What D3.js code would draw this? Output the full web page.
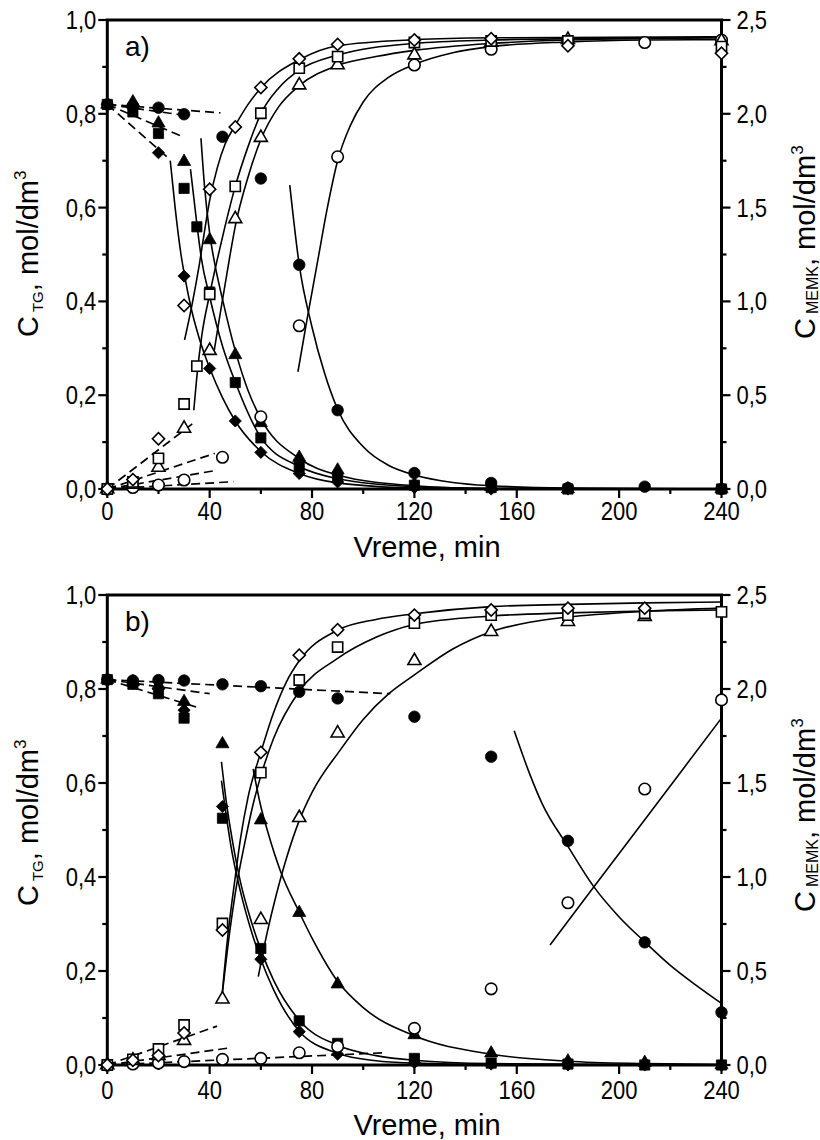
<!DOCTYPE html>
<html><head><meta charset="utf-8">
<script src="https://cdn.jsdelivr.net/npm/d3@7"></script>
<style>
body{margin:0;background:#fff}
svg{display:block}
text{font-family:"Liberation Sans",Arial,Helvetica,sans-serif;fill:#000}
</style></head><body>
<svg id="chart" width="820" height="1140"></svg>
<script>
// ---------- axis ticks ----------
const timeTicks = [0,40,80,120,160,200,240];
const timeMinorTicks = [20,60,100,140,180,220];
const tgTicks = [0,0.2,0.4,0.6,0.8,1.0];
const tgMinorTicks = [0.1,0.3,0.5,0.7,0.9];
const memkTicks = [0,0.5,1.0,1.5,2.0,2.5];
const memkMinorTicks = [0.25,0.75,1.25,1.75,2.25];

// ---------- panel a : C_TG (filled markers), [time min, mol/dm3] ----------
const aTgCircle   = [[0,0.82],[10,0.817],[20,0.813],[30,0.799],[45,0.751],[60,0.662],[75,0.478],[90,0.168],[120,0.034],[150,0.013],[180,0.002],[210,0.005],[240,0]];
const aTgTriangle = [[0,0.82],[10,0.825],[20,0.78],[30,0.698],[40,0.531],[50,0.286],[60,0.141],[75,0.067],[90,0.04],[120,0.01],[150,0.005],[180,0],[240,0]];
const aTgSquare   = [[0,0.82],[10,0.804],[20,0.758],[30,0.641],[35,0.559],[40,0.42],[50,0.227],[60,0.109],[75,0.048],[90,0.026],[120,0.008],[150,0.003],[180,0],[240,0]];
const aTgDiamond  = [[0,0.82],[10,0.812],[20,0.717],[30,0.454],[40,0.257],[50,0.145],[60,0.078],[75,0.033],[90,0.015],[120,0.003],[150,0],[180,0],[240,0]];
// ---------- panel a : C_MEMK (open markers) ----------
const aMemkCircle   = [[0,0],[10,0.008],[20,0.021],[30,0.048],[45,0.169],[60,0.385],[75,0.87],[90,1.771],[120,2.26],[150,2.344],[180,2.388],[210,2.38],[240,2.393]];
const aMemkTriangle = [[0,0],[10,0.025],[20,0.115],[30,0.323],[40,0.738],[50,1.44],[60,1.873],[75,2.153],[90,2.26],[120,2.313],[150,2.38],[180,2.395],[240,2.388]];
const aMemkSquare   = [[0,0],[10,0.038],[20,0.163],[30,0.453],[35,0.655],[40,1.038],[50,1.613],[60,2.003],[75,2.243],[90,2.305],[120,2.38],[150,2.388],[180,2.388],[240,2.358]];
const aMemkDiamond  = [[0,0],[10,0.05],[20,0.268],[30,0.978],[40,1.598],[50,1.93],[60,2.14],[75,2.293],[90,2.37],[120,2.393],[150,2.4],[180,2.363],[240,2.323]];
// ---------- panel a : fitted curves ----------
const aFitTgCircle   = [[71.3,0.648],[75,0.478],[80,0.345],[85,0.245],[90,0.17],[100,0.09],[110,0.05],[120,0.03],[135,0.014],[150,0.007],[180,0.002],[240,0]];
const aFitTgTriangle = [[36.6,0.748],[38,0.645],[40,0.545],[42,0.48],[45,0.405],[50,0.295],[55,0.21],[60,0.15],[75,0.065],[90,0.03],[120,0.007],[150,0.001],[240,0]];
const aFitTgSquare   = [[32.5,0.682],[35,0.565],[36.8,0.49],[40,0.41],[45,0.305],[50,0.228],[60,0.11],[75,0.048],[90,0.022],[120,0.005],[150,0.001],[240,0]];
const aFitTgDiamond  = [[24.6,0.70],[26.5,0.60],[28.8,0.50],[30.2,0.455],[33,0.38],[36,0.32],[40,0.258],[45,0.195],[50,0.145],[60,0.08],[75,0.033],[90,0.013],[120,0.002],[150,0],[240,0]];
const aFitMemkCircle   = [[74.5,0.625],[78,0.9],[82,1.2],[86,1.5],[90,1.75],[95,1.938],[100,2.063],[110,2.195],[120,2.263],[135,2.325],[150,2.358],[180,2.383],[210,2.393],[240,2.395]];
const aFitMemkTriangle = [[41.5,0.715],[44,0.925],[46,1.088],[48,1.25],[50,1.4],[55,1.663],[60,1.863],[67,2.038],[75,2.15],[90,2.258],[105,2.305],[120,2.338],[150,2.375],[180,2.393],[240,2.405]];
const aFitMemkSquare   = [[33.8,0.42],[35,0.6],[37,0.825],[40,1.038],[43,1.225],[46,1.4],[50,1.613],[55,1.825],[60,2.0],[67,2.138],[75,2.233],[90,2.313],[120,2.375],[150,2.393],[180,2.4],[240,2.405]];
const aFitMemkDiamond  = [[30.2,0.795],[33,0.975],[36,1.2],[38,1.375],[40,1.538],[43,1.713],[46,1.838],[50,1.938],[55,2.05],[60,2.138],[75,2.288],[90,2.363],[120,2.395],[150,2.405],[240,2.41]];
// ---------- panel a : dashed initial segments ----------
const aDashTg = [
  [[0,0.82],[44.2,0.802]],
  [[0,0.82],[29.9,0.797]],
  [[0,0.82],[28.6,0.753]],
  [[0,0.82],[24,0.705]]
];
const aDashMemk = [
  [[0,0],[33.5,0.35]],
  [[0,0],[42,0.19]],
  [[0,0],[43,0.10]],
  [[0,0],[49.3,0.039]]
];

// ---------- panel b : C_TG (filled markers) ----------
const bTgCircle   = [[0,0.82],[10,0.818],[20,0.819],[30,0.818],[45,0.81],[60,0.806],[75,0.794],[90,0.78],[120,0.741],[150,0.656],[180,0.477],[210,0.261],[240,0.112]];
const bTgTriangle = [[0,0.82],[10,0.815],[20,0.808],[30,0.773],[45,0.683],[60,0.521],[75,0.324],[90,0.172],[120,0.064],[150,0.025],[180,0.008],[210,0.005],[240,0]];
const bTgSquare   = [[0,0.82],[10,0.81],[20,0.79],[30,0.738],[45,0.525],[60,0.248],[75,0.094],[90,0.046],[120,0.014],[150,0.004],[180,0.002],[210,0],[240,0]];
const bTgDiamond  = [[0,0.82],[10,0.812],[20,0.80],[30,0.755],[45,0.55],[60,0.225],[75,0.071],[90,0.023],[120,0.005],[150,0.002],[180,0],[210,0],[240,0]];
// ---------- panel b : C_MEMK (open markers) ----------
const bMemkCircle   = [[0,0],[10,0.005],[20,0.01],[30,0.018],[45,0.03],[60,0.035],[75,0.065],[90,0.098],[120,0.195],[150,0.405],[180,0.863],[210,1.468],[240,1.942]];
const bMemkTriangle = [[0,0],[10,0.025],[20,0.05],[30,0.13],[45,0.35],[60,0.773],[75,1.315],[90,1.765],[120,2.15],[150,2.305],[180,2.358],[210,2.385]];
const bMemkSquare   = [[0,0],[10,0.03],[20,0.085],[30,0.213],[45,0.753],[60,1.555],[75,2.048],[90,2.223],[120,2.35],[150,2.393],[180,2.393],[210,2.403],[240,2.41]];
const bMemkDiamond  = [[0,0],[10,0.025],[20,0.05],[30,0.17],[45,0.718],[60,1.663],[75,2.18],[90,2.315],[120,2.393],[150,2.42],[180,2.43],[210,2.43]];
// ---------- panel b : fitted curves ----------
const bFitTgCircle   = [[159,0.711],[165,0.62],[170,0.555],[180,0.465],[190,0.38],[200,0.315],[210,0.262],[220,0.212],[230,0.17],[240,0.131]];
const bFitTgTriangle = [[57,0.63],[60,0.55],[62.5,0.50],[67.5,0.415],[75,0.325],[80,0.27],[90,0.178],[100,0.122],[120,0.062],[150,0.023],[180,0.008],[210,0.003],[240,0.001]];
const bFitTgSquare   = [[44.6,0.645],[46.5,0.56],[48.8,0.48],[52,0.39],[56,0.31],[60,0.245],[65,0.18],[75,0.095],[90,0.042],[105,0.02],[120,0.01],[150,0.003],[240,0]];
const bFitTgDiamond  = [[44.6,0.605],[46.5,0.53],[48.5,0.46],[52,0.37],[56,0.29],[60,0.225],[65,0.16],[75,0.072],[90,0.025],[105,0.009],[120,0.004],[150,0.001],[240,0]];
const bFitMemkCircle   = [[173,0.638],[190,0.945],[210,1.305],[225,1.575],[240,1.845]];
const bFitMemkTriangle = [[59,0.47],[62,0.675],[65,0.85],[70,1.1],[75,1.3],[80,1.45],[91,1.675],[100,1.838],[110,1.975],[120,2.075],[135,2.213],[150,2.305],[165,2.355],[180,2.383],[210,2.413],[240,2.43]];
const bFitMemkSquare   = [[44.7,0.35],[48,0.725],[50,0.913],[54,1.2],[57,1.388],[60,1.538],[65,1.738],[75,1.988],[90,2.163],[105,2.275],[120,2.343],[150,2.388],[180,2.405],[210,2.415],[240,2.42]];
const bFitMemkDiamond  = [[44.7,0.35],[47,0.675],[50,1.0],[52,1.2],[55,1.425],[60,1.663],[65,1.875],[70,2.038],[75,2.15],[90,2.313],[105,2.37],[120,2.4],[150,2.438],[180,2.45],[210,2.458],[240,2.463]];
// ---------- panel b : dashed initial segments ----------
const bDashTg = [
  [[0,0.82],[110.6,0.79]],
  [[0,0.82],[40,0.79]],
  [[0,0.82],[35.7,0.76]]
];
const bDashMemk = [
  [[0,0],[42.9,0.207]],
  [[0,0],[46.8,0.089]],
  [[0,0],[108,0.065]]
];

// ---------- panel setup (built from the arrays above) ----------
const panels = [
  {top:20, bottom:489, tag:"a)", tickOff:30.5, xTitleY:557, yTitleL:337, yTitleR:339,
   tg:[["circle",aTgCircle],["triangle",aTgTriangle],["square",aTgSquare],["diamond",aTgDiamond]],
   memk:[["circle",aMemkCircle],["triangle",aMemkTriangle],["square",aMemkSquare],["diamond",aMemkDiamond]],
   fitTg:[aFitTgCircle,aFitTgTriangle,aFitTgSquare,aFitTgDiamond],
   fitMemk:[aFitMemkCircle,aFitMemkTriangle,aFitMemkSquare,aFitMemkDiamond],
   dashTg:aDashTg, dashMemk:aDashMemk},
  {top:595, bottom:1065, tag:"b)", tickOff:34, xTitleY:1135, yTitleL:906, yTitleR:912,
   tg:[["circle",bTgCircle],["triangle",bTgTriangle],["square",bTgSquare],["diamond",bTgDiamond]],
   memk:[["circle",bMemkCircle],["triangle",bMemkTriangle],["square",bMemkSquare],["diamond",bMemkDiamond]],
   fitTg:[bFitTgCircle,bFitTgTriangle,bFitTgSquare,bFitTgDiamond],
   fitMemk:[bFitMemkCircle,bFitMemkTriangle,bFitMemkSquare,bFitMemkDiamond],
   dashTg:bDashTg, dashMemk:bDashMemk}
];

const svg = d3.select("#chart");
const X0 = 107.3, X1 = 721.5;
const fmt = d => d3.format(".1f")(d).replace(".", ",");
const symbols = {
  circle: d3.symbol().type(d3.symbolCircle).size(104),
  square: d3.symbol().type(d3.symbolSquare).size(104),
  triangle: d3.symbol().type(d3.symbolTriangle).size(74),
  diamond: d3.symbol().type(d3.symbolSquare).size(74)
};

panels.forEach(p => {
  const g = svg.append("g");
  const x = d3.scaleLinear().domain([0,240]).range([X0,X1]);
  const yL = d3.scaleLinear().domain([0,1]).range([p.bottom,p.top]);
  const yR = d3.scaleLinear().domain([0,2.5]).range([p.bottom,p.top]);

  // ticks
  const tk = g.append("g").attr("stroke","#000").attr("stroke-width",2.2);
  tgTicks.forEach(v => tk.append("line").attr("x1",X0-9).attr("x2",X0).attr("y1",yL(v)).attr("y2",yL(v)));
  tgMinorTicks.forEach(v => tk.append("line").attr("x1",X0-5).attr("x2",X0).attr("y1",yL(v)).attr("y2",yL(v)));
  memkTicks.forEach(v => tk.append("line").attr("x1",X1).attr("x2",X1+9).attr("y1",yR(v)).attr("y2",yR(v)));
  memkMinorTicks.forEach(v => tk.append("line").attr("x1",X1).attr("x2",X1+5).attr("y1",yR(v)).attr("y2",yR(v)));
  timeTicks.forEach(t => tk.append("line").attr("x1",x(t)).attr("x2",x(t)).attr("y1",p.bottom).attr("y2",p.bottom+9));
  timeMinorTicks.forEach(t => tk.append("line").attr("x1",x(t)).attr("x2",x(t)).attr("y1",p.bottom).attr("y2",p.bottom+5));

  // tick labels
  tgTicks.forEach(v => g.append("text").attr("transform",`translate(${X0-11},${yL(v)}) scale(0.88,1)`)
      .attr("text-anchor","end").attr("dy","0.36em").attr("font-size",25).text(fmt(v)));
  memkTicks.forEach(v => g.append("text").attr("transform",`translate(${X1+15},${yR(v)}) scale(0.88,1)`)
      .attr("text-anchor","start").attr("dy","0.36em").attr("font-size",25).text(fmt(v)));
  timeTicks.forEach(t => g.append("text").attr("transform",`translate(${x(t)},${p.bottom+p.tickOff}) scale(0.88,1)`)
      .attr("text-anchor","middle").attr("font-size",25).text(t));

  // frame
  g.append("rect").attr("x",X0).attr("y",p.top).attr("width",X1-X0).attr("height",p.bottom-p.top)
    .attr("fill","none").attr("stroke","#000").attr("stroke-width",3);

  // titles
  g.append("text").attr("x",427).attr("y",p.xTitleY).attr("text-anchor","middle").attr("font-size",29).text("Vreme, min");
  const tl = g.append("text").attr("transform",`translate(38,${p.yTitleL}) rotate(-90)`).attr("font-size",29);
  tl.append("tspan").text("C");
  tl.append("tspan").attr("font-size",15).attr("dx",4).attr("dy",5).text("TG");
  tl.append("tspan").attr("dy",-5).text(", mol/dm");
  tl.append("tspan").attr("font-size",17).attr("dy",-12).text("3");
  const tr = g.append("text").attr("transform",`translate(815,${p.yTitleR}) rotate(-90)`).attr("font-size",29);
  tr.append("tspan").text("C");
  tr.append("tspan").attr("font-size",16).attr("dx",4).attr("dy",3).text("MEMK");
  tr.append("tspan").attr("dy",-3).text(", mol/dm");
  tr.append("tspan").attr("font-size",17).attr("dy",-12).text("3");
  g.append("text").attr("x",125).attr("y",p.top+36).attr("font-size",28).text(p.tag);

  // lines
  const lineL = d3.line().x(d=>x(d[0])).y(d=>yL(d[1])).curve(d3.curveMonotoneX);
  const lineR = d3.line().x(d=>x(d[0])).y(d=>yR(d[1])).curve(d3.curveMonotoneX);
  const lg = g.append("g").attr("fill","none").attr("stroke","#000").attr("stroke-width",1.6);
  p.fitTg.forEach(c => lg.append("path").attr("d",lineL(c)));
  p.fitMemk.forEach(c => lg.append("path").attr("d",lineR(c)));
  p.dashTg.forEach(c => lg.append("path").attr("d",lineL(c)).attr("stroke-dasharray","9,5").attr("stroke-width",1.7));
  p.dashMemk.forEach(c => lg.append("path").attr("d",lineR(c)).attr("stroke-dasharray","9,5").attr("stroke-width",1.7));

  // markers
  const mg = g.append("g");
  p.tg.forEach(([s,data]) => {
    mg.selectAll(null).data(data).join("path")
      .attr("d",symbols[s]())
      .attr("transform",d=>`translate(${x(d[0])},${yL(d[1])})${s==="diamond"?" rotate(45)":""}`)
      .attr("fill","#000").attr("stroke","#000").attr("stroke-width",0.8);
  });
  p.memk.forEach(([s,data]) => {
    mg.selectAll(null).data(data).join("path")
      .attr("d",symbols[s]())
      .attr("transform",d=>`translate(${x(d[0])},${yR(d[1])})${s==="diamond"?" rotate(45)":""}`)
      .attr("fill","#fff").attr("stroke","#000").attr("stroke-width",1.6);
  });
});
</script>
</body></html>
